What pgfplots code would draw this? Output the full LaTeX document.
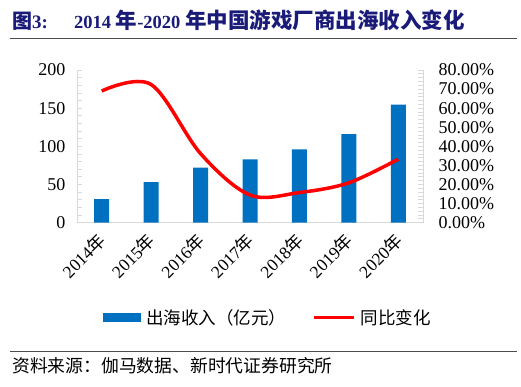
\documentclass[border=0pt]{standalone}
\usepackage{pgfplots}
\pgfplotsset{compat=1.18}
\usepackage{fontspec}
\setmainfont{Liberation Serif}
\newfontfamily\cjk{Noto Sans CJK SC}
\definecolor{titleblue}{RGB}{26,26,120}
\definecolor{barblue}{RGB}{0,112,192}
\definecolor{axgray}{RGB}{217,217,217}
\begin{document}
\begin{tikzpicture}
\useasboundingbox (0pt,0pt) rectangle (521pt,386pt);
% title
\node[anchor=base west, inner sep=0, text=titleblue, font=\bfseries\fontsize{19}{21}\selectfont] at (12pt,357pt) {{\cjk\bfseries\fontsize{20}{22}\selectfont 图}3:};
\node[anchor=base west, inner sep=0, text=titleblue, font=\bfseries\fontsize{18.5}{21}\selectfont] at (74pt,357pt) {2014 {\cjk\bfseries\fontsize{21.5}{22}\selectfont 年}-2020 {\cjk\bfseries\fontsize{21.5}{22}\selectfont 年中国游戏厂商出海收入变化}};
\draw[black!70, line width=1.2pt] (10pt,347.5pt) -- (517pt,347.5pt);
% source
\draw[black!70, line width=1pt] (10pt,35pt) -- (517pt,35pt);
\node[anchor=base west, inner sep=0, font=\cjk\fontsize{17.8}{19}\selectfont] at (12pt,14pt) {资料来源：伽马数据、新时代证券研究所};

\begin{axis}[
  at={(77pt,163.3pt)}, anchor=south west, scale only axis,
  width=346pt, height=152.7pt,
  xmin=-0.5, xmax=6.5, ymin=0, ymax=200,
  axis x line*=bottom, axis y line*=left,
  axis line style={axgray, line width=1pt},
  xtick={0,1,2,3,4,5,6},
  xticklabels={2014{\cjk 年},2015{\cjk 年},2016{\cjk 年},2017{\cjk 年},2018{\cjk 年},2019{\cjk 年},2020{\cjk 年}},
  xtick style={draw=none},
  xticklabel style={yshift=-12pt, xshift=3pt, rotate=45, anchor=east, font=\fontsize{17.5}{19}\selectfont},
  ytick={0,50,100,150,200},
  minor y tick num=4,
  tick align=inside,
  major tick length=5pt, minor tick length=5pt,
  ytick style={axgray, line width=0.8pt},
  minor y tick style={axgray, line width=0.8pt},
  yticklabel style={font=\fontsize{18}{20}\selectfont, xshift=-8pt},
  /pgf/number format/assume math mode=true,
]
\addplot[ybar, bar width=15pt, fill=barblue, draw=none, bar shift=0pt] coordinates {
(0,30.8) (1,53.1) (2,72.3) (3,82.8) (4,95.9) (5,115.9) (6,154.5)};
\end{axis}

\begin{axis}[
  at={(77pt,163.3pt)}, anchor=south west, scale only axis,
  width=346pt, height=152.7pt,
  xmin=-0.5, xmax=6.5, ymin=0, ymax=80,
  axis x line=none, axis y line*=right,
  axis line style={axgray, line width=1pt},
  ytick={0,10,...,80},
  minor y tick num=4,
  tick align=inside,
  major tick length=5pt, minor tick length=5pt,
  ytick style={axgray, line width=0.8pt},
  minor y tick style={axgray, line width=0.8pt},
  yticklabel={\pgfmathprintnumber[fixed,fixed zerofill,precision=2]{\tick}\%},
  yticklabel style={font=\fontsize{18}{20}\selectfont, xshift=12pt},
  /pgf/number format/assume math mode=true,
  legend style={at={(0.552,-0.62)}, anchor=center, draw=none, fill=none,
    legend columns=2, font=\cjk\fontsize{17.5}{19}\selectfont,
    /tikz/every even column/.append style={column sep=24pt}},
]
\addlegendimage{legend image code/.code={\fill[barblue] (0pt,-4pt) rectangle (37pt,4pt); \path (41pt,0pt);}}
\addlegendentry{出海收入（亿元）}
\addplot[red, line width=3.5pt, smooth, tension=0.55, legend image code/.code={\draw[red, line width=3.5pt] (0pt,0pt) -- (40pt,0pt); \path (43pt,0pt);}] coordinates {
(0,69.0) (1,72.4) (2,36.2) (3,14.5) (4,15.8) (5,20.9) (6,33.3)};
\addlegendentry{同比变化}
\end{axis}
\end{tikzpicture}
\end{document}
